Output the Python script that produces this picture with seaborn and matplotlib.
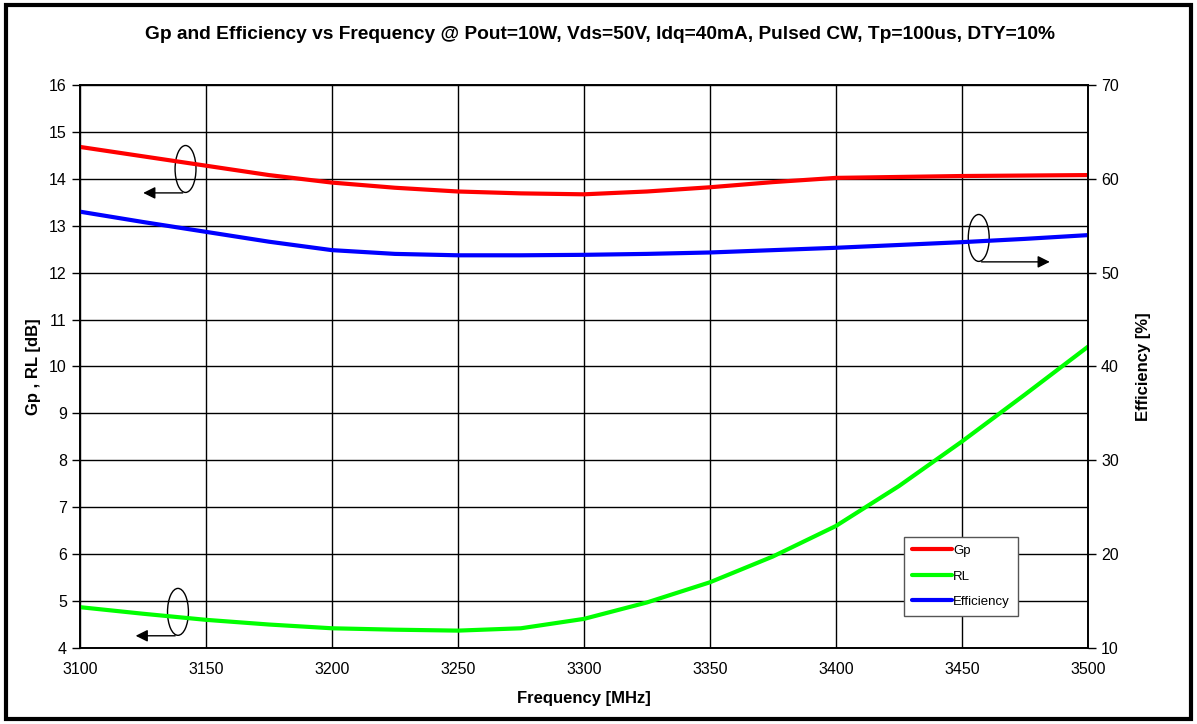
import numpy as np
import pandas as pd
import matplotlib
matplotlib.use("Agg")
import matplotlib.pyplot as plt
from matplotlib.patches import Ellipse, Rectangle
import seaborn as sns

# values
freq = [3100, 3125, 3150, 3175, 3200, 3225, 3250, 3275, 3300,
        3325, 3350, 3375, 3400, 3425, 3450, 3475, 3500]
gp = [14.68, 14.48, 14.28, 14.08, 13.92, 13.81, 13.73, 13.69, 13.67,
      13.73, 13.82, 13.93, 14.02, 14.04, 14.06, 14.07, 14.08]
rl = [4.87, 4.73, 4.60, 4.50, 4.42, 4.39, 4.37, 4.42, 4.62,
      4.97, 5.40, 5.95, 6.60, 7.45, 8.40, 9.40, 10.42]
eff = [56.5, 55.4, 54.35, 53.3, 52.4, 52.0, 51.85, 51.85, 51.9,
       52.0, 52.15, 52.4, 52.65, 52.95, 53.25, 53.6, 54.0]

df = pd.DataFrame({"freq": freq, "Gp": gp, "RL": rl, "Efficiency": eff})

sns.set_style("white")
plt.rcParams['font.family'] = ['Liberation Sans', 'DejaVu Sans']
plt.rcParams['text.color'] = 'black'
plt.rcParams['axes.labelcolor'] = 'black'

fig = plt.figure(figsize=(11.97, 7.24), dpi=100)
ax = fig.add_axes([0.0668, 0.105, 0.842, 0.7776])
ax2 = ax.twinx()

sns.lineplot(data=df, x="freq", y="Gp", ax=ax, color="#ff0000", lw=3, label="Gp", legend=False)
sns.lineplot(data=df, x="freq", y="RL", ax=ax, color="#00ff00", lw=3, label="RL", legend=False)
sns.lineplot(data=df, x="freq", y="Efficiency", ax=ax2, color="#0000ff", lw=3, label="Efficiency", legend=False)

ax.set_xlim(3100, 3500)
ax.set_ylim(4, 16)
ax2.set_ylim(10, 70)
ax.set_xticks(range(3100, 3501, 50))
ax.set_yticks(range(4, 17))
ax2.set_yticks(range(10, 71, 10))
ax.grid(True, color="black", lw=1)
ax.set_axisbelow(True)

for a in (ax, ax2):
    for s in a.spines.values():
        s.set_color("black")
        s.set_linewidth(1.2)
    a.tick_params(direction="out", length=6, width=1, colors="black", labelsize=11.5)
ax.tick_params(axis="x", pad=4)

ax.set_xlabel("Frequency [MHz]", fontsize=12, fontweight="bold", labelpad=10)
ax.set_ylabel("Gp , RL [dB]", fontsize=12, fontweight="bold", labelpad=6)
ax2.set_ylabel("Efficiency [%]", fontsize=12, fontweight="bold", labelpad=12)
fig.text(0.501, 0.952,
         "Gp and Efficiency vs Frequency @ Pout=10W, Vds=50V, Idq=40mA, Pulsed CW, Tp=100us, DTY=10%",
         ha="center", va="center", fontsize=13.8, fontweight="bold", color="black")

# annotation ovals with arrows
arrow = dict(arrowstyle="-|>", color="black", lw=1, mutation_scale=18)
ax.add_patch(Ellipse((3141.9, 14.21), 8.3, 1.0, fill=False, ec="black", lw=1))
ax.annotate("", xy=(3124, 13.70), xytext=(3141.9, 13.70), arrowprops=arrow)
ax2.add_patch(Ellipse((3456.7, 53.7), 8.3, 5.0, fill=False, ec="black", lw=1))
ax2.annotate("", xy=(3486, 51.15), xytext=(3456.7, 51.15), arrowprops=arrow)
ax.add_patch(Ellipse((3138.9, 4.77), 8.3, 1.0, fill=False, ec="black", lw=1))
ax.annotate("", xy=(3121, 4.26), xytext=(3138.9, 4.26), arrowprops=arrow)

h1, l1 = ax.get_legend_handles_labels()
h2, l2 = ax2.get_legend_handles_labels()
leg = ax2.legend(h1 + h2, l1 + l2, loc="lower left", bbox_to_anchor=(0.818, 0.057),
                 fontsize=9.5, frameon=True, fancybox=False, handlelength=3,
                 handletextpad=0.1, borderpad=0.6, labelspacing=1.0, borderaxespad=0)
leg.get_frame().set_edgecolor("#555555")
leg.get_frame().set_linewidth(1)
leg.get_frame().set_alpha(1)

fig.add_artist(Rectangle((0.005, 0.007), 0.99, 0.986, transform=fig.transFigure,
                         fill=False, ec="black", lw=3))

fig.savefig("out.png", dpi=100)
